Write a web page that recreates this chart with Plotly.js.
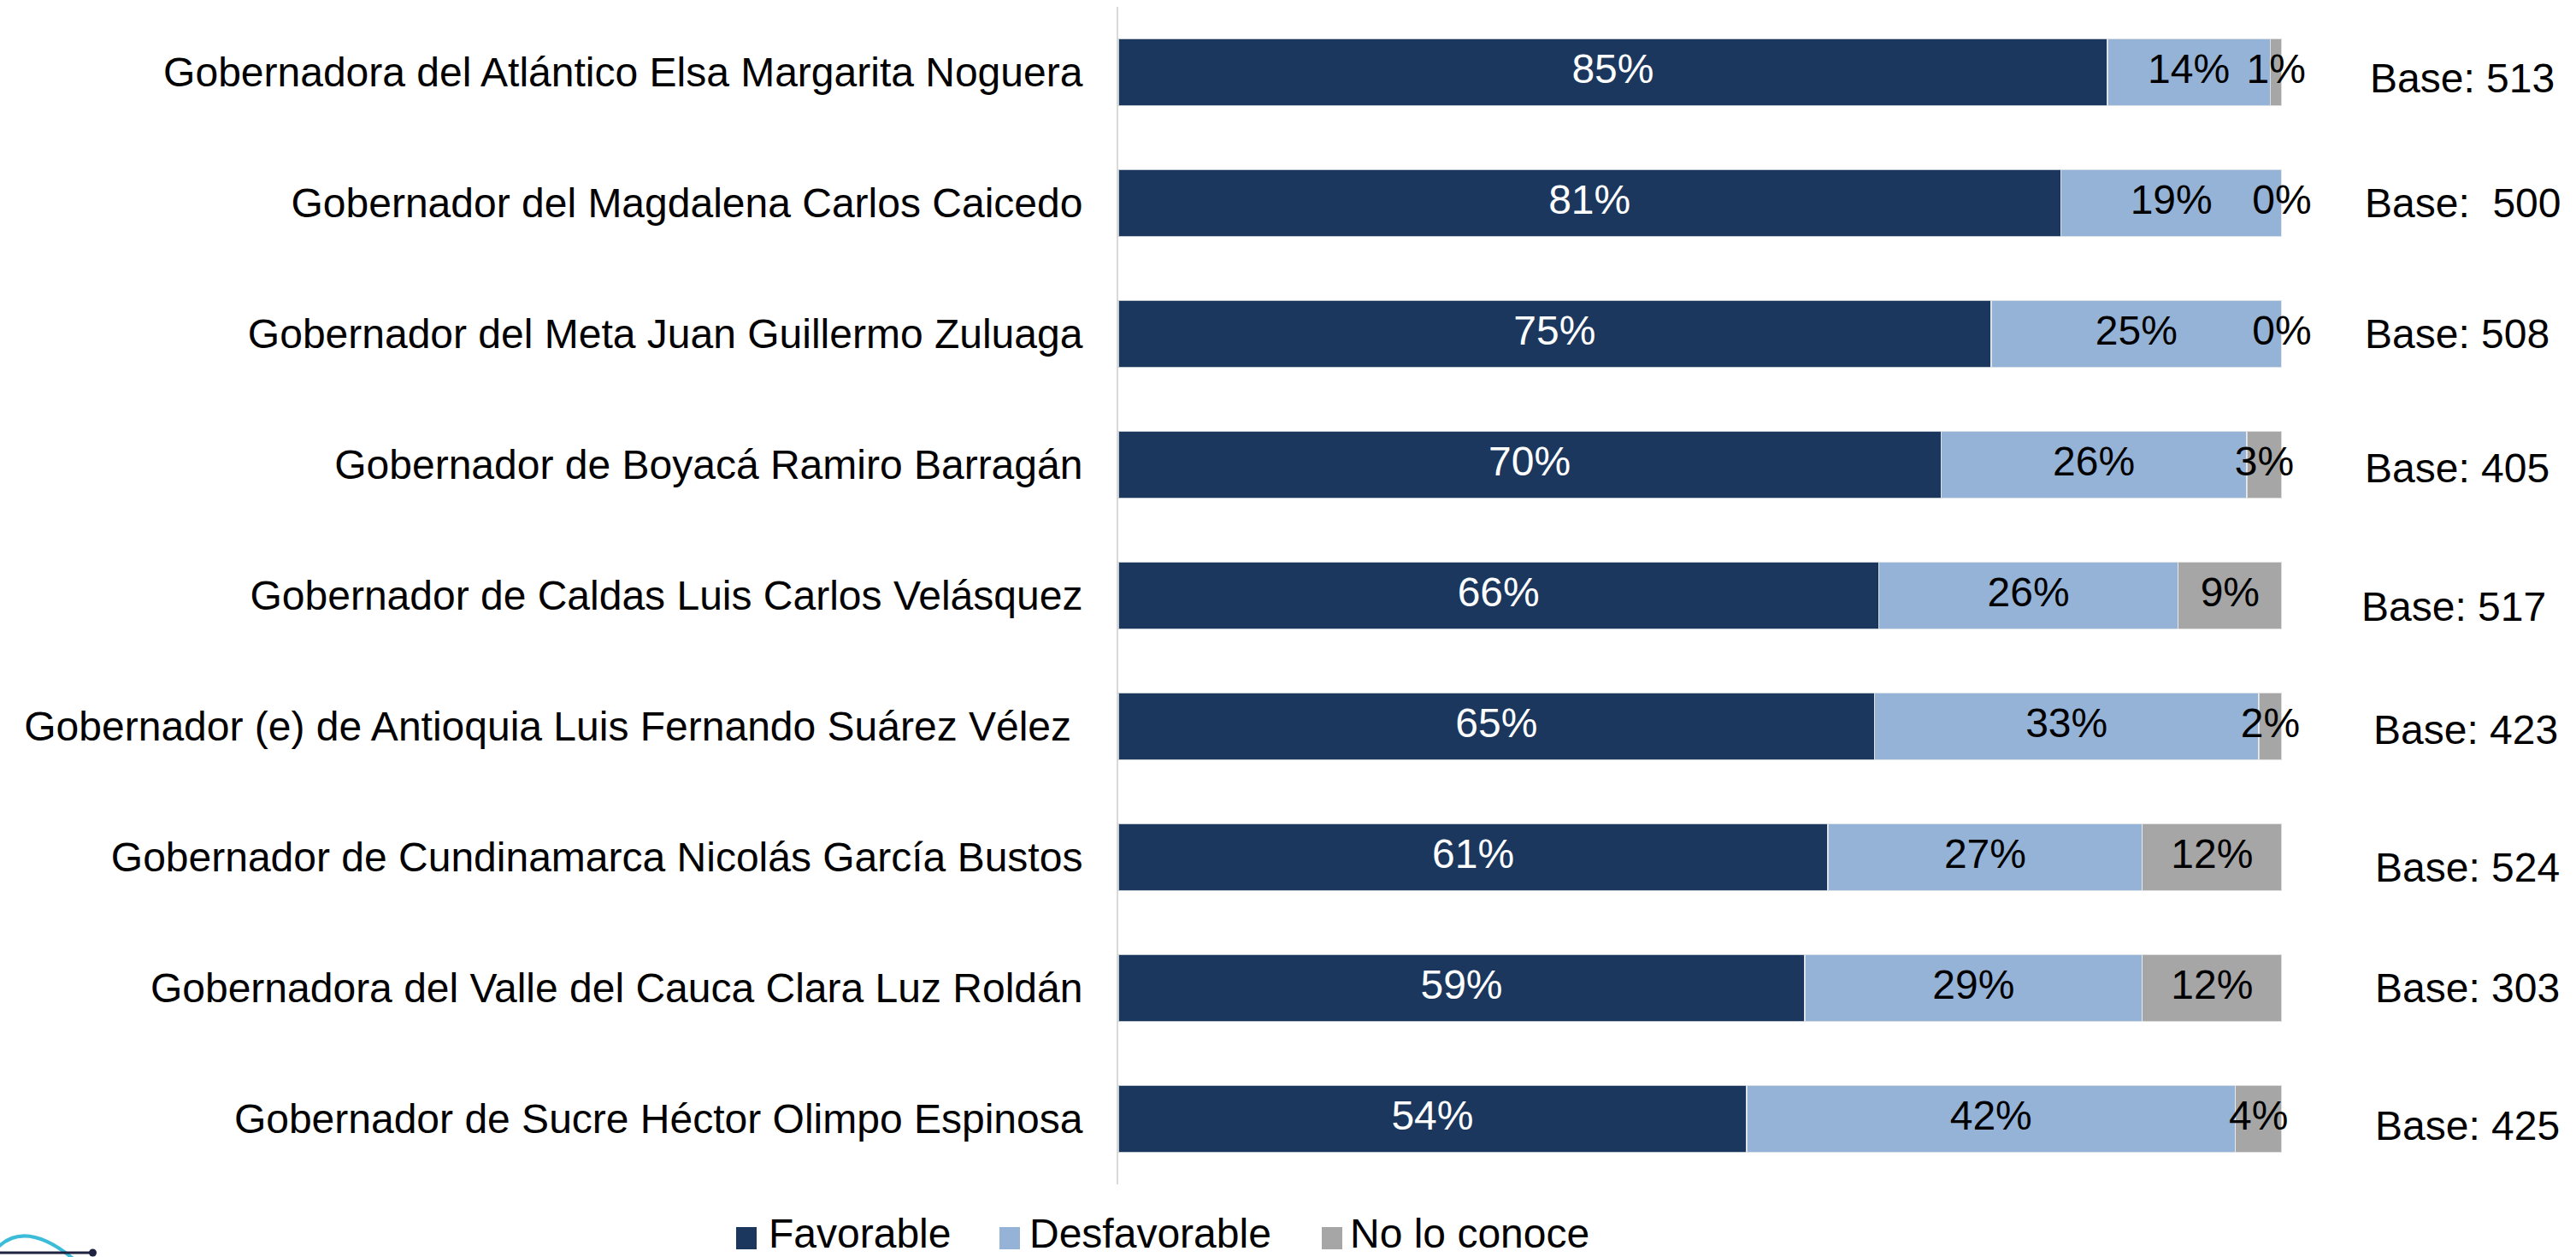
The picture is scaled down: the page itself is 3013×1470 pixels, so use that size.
<!DOCTYPE html>
<html><head><meta charset="utf-8">
<script src="https://cdn.plot.ly/plotly-3.0.1.min.js"></script>
<style>html,body{margin:0;padding:0;background:#fff;}#chart{width:3013px;height:1470px;}</style>
</head><body><div id="chart"></div>
<script>
// ---------- data ----------
const categories = [
  "Gobernadora del Atlántico Elsa Margarita Noguera",
  "Gobernador del Magdalena Carlos Caicedo",
  "Gobernador del Meta Juan Guillermo Zuluaga",
  "Gobernador de Boyacá Ramiro Barragán",
  "Gobernador de Caldas Luis Carlos Velásquez",
  "Gobernador (e) de Antioquia Luis Fernando Suárez Vélez\u00a0",
  "Gobernador de Cundinamarca Nicolás García Bustos",
  "Gobernadora del Valle del Cauca Clara Luz Roldán",
  "Gobernador de Sucre Héctor Olimpo Espinosa"
];
const favorable    = [85, 81, 75, 70, 66, 65, 61, 59, 54];
const desfavorable = [14, 19, 25, 26, 26, 33, 27, 29, 42];
const noLoConoce   = [1, 0, 0, 3, 9, 2, 12, 12, 4];
const baseLabels = ["Base: 513", "Base:\u00a0 500", "Base: 508", "Base: 405", "Base: 517",
                    "Base: 423", "Base: 524", "Base: 303", "Base: 425"];
const seriesNames = ["Favorable", "Desfavorable", "No lo conoce"];

// ---------- style ----------
const FONT = '"Liberation Sans", Arial, sans-serif';
const colors = ["#1B375E", "#95B3D7", "#A6A6A6"];
const textColors = ["#FFFFFF", "#000000", "#000000"];
const W = 3013, H = 1470;
const PL = 1308, PR = 2669, PT = 8, PB = 1385;
const px2x = p => (p - PL) / (PR - PL);
const px2y = p => (PB - p) / (PB - PT);
// manual placement of the "Base" boxes (pixels left edge, vertical nudge)
const baseLeft = [2770, 2764, 2764, 2764, 2760, 2774, 2776, 2776, 2776];
const baseNudge = [-7, 0, 0, -4, -13, -4, -12, 0, -8];

const series = [favorable, desfavorable, noLoConoce];
const totals = categories.map((_, i) => favorable[i] + desfavorable[i] + noLoConoce[i]);

const traces = [];
series.forEach((vals, s) => {
  traces.push({
    type: 'bar', orientation: 'h', name: seriesNames[s],
    y: categories, x: vals,
    marker: {color: colors[s], line: {color: 'rgba(235,235,235,0.8)', width: 1.5}},
    hoverinfo: 'none', showlegend: false
  });
});
// data labels centred on each segment (normalised like barnorm)
series.forEach((vals, s) => {
  const mids = vals.map((v, i) => {
    let start = 0;
    for (let k = 0; k < s; k++) start += series[k][i];
    return (start + v / 2) / totals[i] * 100;
  });
  traces.push({
    type: 'scatter', mode: 'text', y: categories, x: mids,
    text: vals.map(v => v + '%'),
    textposition: 'middle center',
    textfont: {family: FONT, size: 48, color: textColors[s]},
    cliponaxis: false, hoverinfo: 'none', showlegend: false
  });
});

const annotations = baseLabels.map((t, i) => ({
  xref: 'paper', yref: 'y', x: px2x(baseLeft[i]), y: categories[i],
  xanchor: 'left', yanchor: 'middle', yshift: baseNudge[i],
  text: t, showarrow: false, font: {family: FONT, size: 48, color: '#000'}
}));

const shapes = [];
// custom legend
const legSq = [861, 1169, 1546];
const legTx = [898, 1203, 1578];
seriesNames.forEach((n, s) => {
  shapes.push({type: 'rect', xref: 'paper', yref: 'paper',
    x0: px2x(legSq[s]), x1: px2x(legSq[s] + 24), y0: px2y(1461), y1: px2y(1435),
    fillcolor: colors[s], line: {width: 0}});
  annotations.push({xref: 'paper', yref: 'paper', x: px2x(legTx[s]), y: px2y(1443),
    xanchor: 'left', yanchor: 'middle', text: n, showarrow: false, borderpad: 0,
    font: {family: FONT, size: 48, color: '#000'}});
});
// logo fragment bottom-left
shapes.push({type: 'path', xref: 'paper', yref: 'paper',
  path: `M ${px2x(-4)},${px2y(1460)} Q ${px2x(30)},${px2y(1425)} ${px2x(88)},${px2y(1474)}`,
  line: {color: '#3BBCD9', width: 4}});
shapes.push({type: 'line', xref: 'paper', yref: 'paper',
  x0: px2x(0), x1: px2x(108), y0: px2y(1465), y1: px2y(1465),
  line: {color: '#1E2140', width: 3}});
shapes.push({type: 'circle', xref: 'paper', yref: 'paper',
  x0: px2x(104), x1: px2x(113), y0: px2y(1469.5), y1: px2y(1460.5),
  fillcolor: '#1E2140', line: {width: 0}});

const layout = {
  width: W, height: H,
  margin: {l: PL, r: W - PR, t: PT, b: H - PB, pad: 0},
  paper_bgcolor: '#fff', plot_bgcolor: '#fff',
  barmode: 'stack', barnorm: 'percent', bargap: 0.49,
  font: {family: FONT, size: 48, color: '#000'},
  showlegend: false,
  xaxis: {range: [0, 100], visible: false, fixedrange: true},
  yaxis: {type: 'category', range: [8.5, -0.5], showline: true, linecolor: '#D9D9D9', linewidth: 2,
          ticks: '', ticklabelstandoff: 30, showgrid: false, zeroline: false, automargin: false,
          tickfont: {family: FONT, size: 48, color: '#000'}, fixedrange: true},
  annotations: annotations, shapes: shapes
};
Plotly.newPlot('chart', traces, layout, {displayModeBar: false, staticPlot: true});
</script></body></html>
